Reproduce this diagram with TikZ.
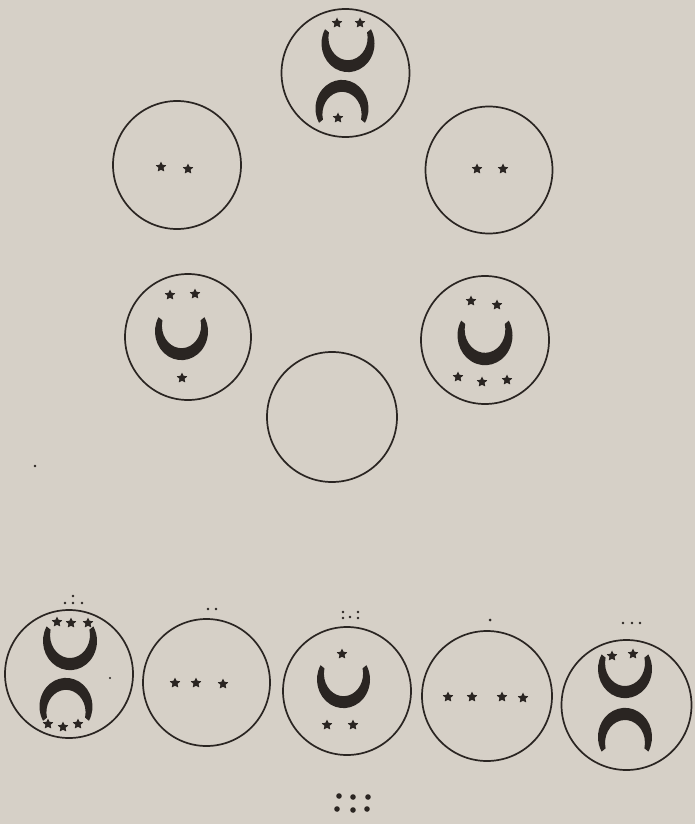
\documentclass[tikz,border=0pt]{standalone}
\usetikzlibrary{shapes.geometric}
\definecolor{paper}{HTML}{D6D0C7}
\definecolor{ink}{HTML}{2A2522}
\begin{document}
\begin{tikzpicture}[x=1pt,y=-1pt,
  ring/.style={draw=ink,line width=1.7pt},
  starmark/.style={star,star points=5,star point ratio=2.0,fill=ink,draw=none,inner sep=0pt,minimum size=11pt},
  crescent/.pic={\fill[ink] (0.866,0.54) arc[start angle=30,end angle=-210,x radius=1,y radius=1.08]
     -- (-0.719,0.42) arc[start angle=166.4,end angle=373.6,x radius=0.74,y radius=0.85] -- cycle;}
]
\fill[paper] (0,0) rectangle (695,824);
\useasboundingbox (0,0) rectangle (695,824);

% ---- circles
\draw[ring] (345.5,73) circle (64);
\draw[ring] (177,165) circle (64);
\draw[ring] (489,170) circle (63.5);
\draw[ring] (188,337) circle (63);
\draw[ring] (485,340) circle (64);
\draw[ring] (332,417) circle (65);
\draw[ring] (69,674) circle (64);
\draw[ring] (206.5,682.5) circle (63.5);
\draw[ring] (347,691) circle (64);
\draw[ring] (487,696) circle (65);
\draw[ring] (626.5,705) circle (65);

% ---- top circle
\node[starmark] (t1) at (337,23) {};
\node[starmark] (t2) at (360,23) {};
\pic[scale=26.5,rotate=180] at (348,43.5) {crescent};
\pic[scale=26.5] at (342,108.5) {crescent};
\node[starmark] (t3) at (338,118) {};

% ---- upper pair
\node[starmark] (l1) at (161,167) {};
\node[starmark] (l2) at (188,169) {};
\node[starmark] (r1) at (477,169) {};
\node[starmark] (r2) at (503,169) {};

% ---- middle left
\node[starmark] (ml1) at (170,295) {};
\node[starmark] (ml2) at (195,294) {};
\pic[scale=26.5,rotate=180] at (181.5,331.5) {crescent};
\node[starmark] (ml3) at (182,378) {};

% ---- middle right
\node[starmark] (mr1) at (471,301) {};
\node[starmark] (mr2) at (497,305) {};
\pic[scale=27.5,rotate=180] at (485,335.5) {crescent};
\node[starmark] (mr3) at (458,377) {};
\node[starmark] (mr4) at (482,382) {};
\node[starmark] (mr5) at (507,380) {};

% ---- bottom 1
\node[starmark] (a1) at (57,622) {};
\node[starmark] (a2) at (71,623) {};
\node[starmark] (a3) at (88,623) {};
\pic[scale=27,rotate=180] at (70,641) {crescent};
\pic[scale=26.5] at (66,706.5) {crescent};
\node[starmark] (a4) at (48,724) {};
\node[starmark] (a5) at (63,727) {};
\node[starmark] (a6) at (78,724) {};
\fill[ink] (73,596) circle (1.4) (65,603) circle (1.4) (73,603) circle (1.4) (82,603) circle (1.4);
\fill[ink] (110,678) circle (1.2);

% ---- bottom 2
\node[starmark] (b1) at (175,683) {};
\node[starmark] (b2) at (196,683) {};
\node[starmark] (b3) at (223,684) {};
\fill[ink] (208,609) circle (1.4) (216,609) circle (1.4);

% ---- bottom 3
\node[starmark] (c1) at (342,654) {};
\pic[scale=26.5,rotate=180] at (343.5,679.5) {crescent};
\node[starmark] (c2) at (327,725) {};
\node[starmark] (c3) at (353,725) {};
\fill[ink] (343,612) circle (1.3) (343,618) circle (1.3) (350,617) circle (1.3)
           (358,612) circle (1.3) (358,618) circle (1.3);

% ---- bottom 4
\node[starmark] (d1) at (448,697) {};
\node[starmark] (d2) at (472,697) {};
\node[starmark] (d3) at (502,697) {};
\node[starmark] (d4) at (523,698) {};
\fill[ink] (490,620) circle (1.5);

% ---- bottom 5
\node[starmark] (e1) at (612,656) {};
\node[starmark] (e2) at (633,654) {};
\pic[scale=27,rotate=180] at (625,669) {crescent};
\pic[scale=27] at (625,737) {crescent};
\fill[ink] (623,623) circle (1.4) (632,623) circle (1.4) (640,623) circle (1.4);

% ---- stray mark and bottom dots
\fill[ink] (35,466) circle (1.3);
\fill[ink] (339,796) circle (2.8) (353,797) circle (2.8) (368,797) circle (2.8)
           (337,809) circle (2.8) (353,810) circle (2.8) (367,809) circle (2.8);
\end{tikzpicture}
\end{document}
